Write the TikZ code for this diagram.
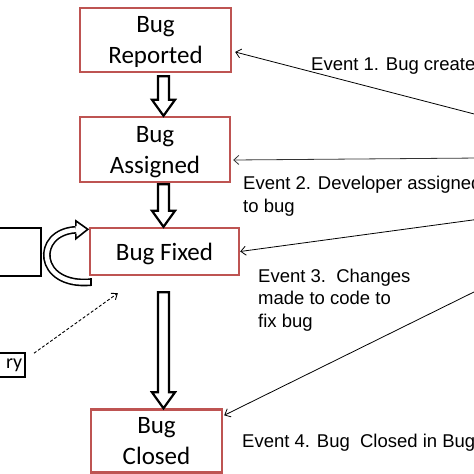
\documentclass[tikz,border=0pt]{standalone}
\usepackage{fontspec}
\setmainfont{Liberation Sans}
\newfontfamily\boxfont{Carlito}
\usetikzlibrary{positioning,calc,arrows.meta}
\definecolor{boxred}{RGB}{190,84,82}
% hollow block arrow between two states, #3 = gap below the upper state
\newcommand{\fatarrow}[3]{%
  \draw[fat] let \p1=(#1.south), \p2=(#2.north), \p3=(spine) in
    (\x3-5.5pt,\y1-#3) -- (\x3-5.5pt,\y2+16pt) -- (\x3-11.5pt,\y2+16pt) -- (\x3,\y2)
    -- (\x3+11.5pt,\y2+16pt) -- (\x3+5.5pt,\y2+16pt) -- (\x3+5.5pt,\y1-#3) -- cycle;}

\begin{document}
\begin{tikzpicture}[x=1pt,y=-1pt]
        \tikzstyle{state} = [draw=boxred, line width=2.4pt, rectangle, align=center, text depth=0pt, font=\boxfont\fontsize{25}{31}\selectfont]
        \tikzstyle{blackbox} = [draw, line width=2pt, rectangle]
        \tikzstyle{event} = [anchor=base west, align=left, inner sep=0pt, font=\fontsize{18.5}{22.5}\selectfont]
        \tikzstyle{eventline} = [-{Straight Barb[length=5pt,width=9pt]}, line width=0.8pt]
        \tikzstyle{fat} = [draw, line width=2.2pt, fill=white, line join=miter]
        \useasboundingbox (0,0) rectangle (474,474);
        \clip (0,0) rectangle (474,474);

        % states
        \node (rep) [state, minimum width=151pt, minimum height=64pt] at (155.5,40) {Bug\\Reported};
        \node (asg) [state, minimum width=150pt, minimum height=65pt] at (155,149.5) {Bug\\Assigned};
        \node (fix) [state, minimum width=149pt, minimum height=47pt] at (164.5,251.5) {Bug Fixed};
        \node (cls) [state, minimum width=131pt, minimum height=63pt] at (156.5,441) {Bug\\Closed};

        % boxes on the left
        \node (tool) [blackbox, anchor=east, minimum width=80pt, minimum height=48pt] at (42,252) {};
        \node (repo) [blackbox, line width=1.6pt, anchor=east, text width=44pt, align=right, inner xsep=3pt,
            minimum height=24pt, font=\boxfont\fontsize{20}{24}\selectfont] at (26,365) {ry};

        % block arrows
        \coordinate (spine) at (163.5,0);
        \fatarrow{rep}{asg}{3pt}
        \fatarrow{asg}{fix}{1pt}
        \fatarrow{fix}{cls}{16pt}

        % loop back into Bug Fixed
        \coordinate (loopend) at ($(fix.north west)+(-13,3)$);
        \draw[double=white, double distance=4.5pt, line width=1.6pt] ($(fix.south west)+(2,6)$) .. controls (36,287) and (34,232) .. (loopend);
        \draw[line width=1.6pt] ($(fix.south west)+(2,2.25)$) -- ++(0,7.5);
        \draw[line width=1.6pt, line join=miter] ($(loopend)+(0,-3.75)$) -- ++(0,-5.25) -- ($(loopend)+(12,-0.5)$) -- ($(loopend)+(0,9)$) -- ++(0,-5.25);
        \draw[dash pattern=on 3pt off 2pt, line width=0.9pt, -{Straight Barb[length=5pt,width=8pt]}] ($(repo.north east)+(8,1)$) -- ($(fix.south west)+(29,17)$);

        % events
        \coordinate (e1) at (480,115.5);
        \coordinate (e2) at (480,158);
        \coordinate (e3) at (480,219);
        \coordinate (e4) at (480,289);
        \draw[eventline] (e1) -- ($(rep.east)+(3,12)$);
        \draw[eventline, black!80] (e2) -- ($(asg.east)+(2,10.5)$);
        \draw[eventline] (e3) -- (fix.east);
        \draw[eventline] (e4) -- ($(cls.north east)+(1,7)$);

        \node (ev1) [event] at (311,70) {Event 1. Bug created};
        \node (ev2) [event] at (243,212) {Event 2. Developer assigned\\to bug};
        \node (ev3) [event] at (258,327) {Event 3.\ \ Changes\\made to code to\\fix bug};
        \node (ev4) [event] at (242,447) {Event 4. Bug\ \ Closed in Bug};
    \end{tikzpicture}
\end{document}
